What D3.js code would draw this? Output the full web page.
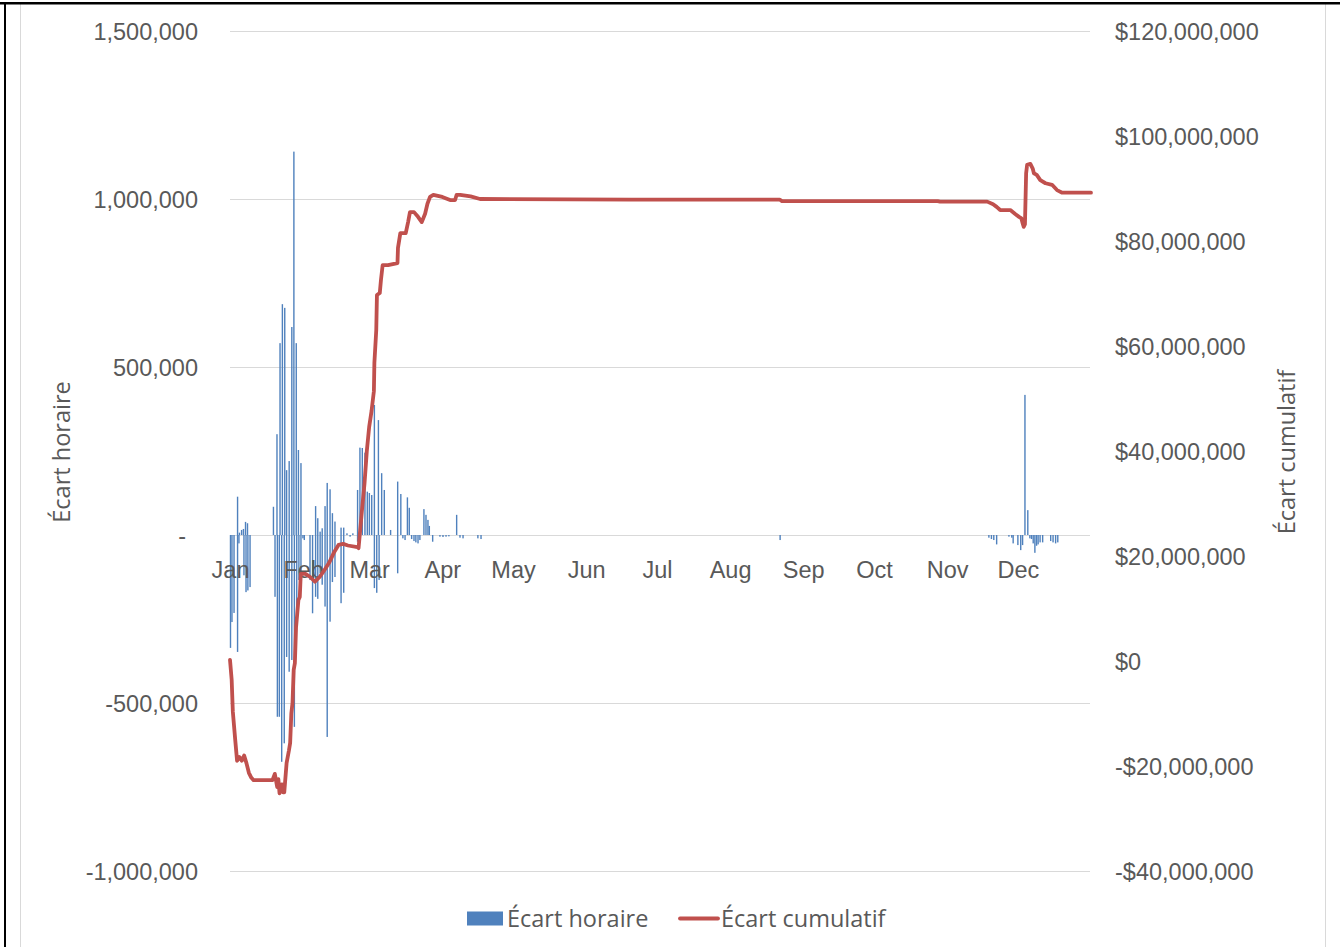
<!DOCTYPE html>
<html>
<head>
<meta charset="utf-8">
<script src="https://cdn.jsdelivr.net/npm/d3@7"></script>
<style>
  html, body { margin: 0; padding: 0; background: #fff; }
  svg { display: block; font-family: "Open Sans", "Noto Sans", sans-serif; }
  .lbl { fill: #595959; font-size: 23.5px; }
</style>
</head>
<body>
<svg id="chart" width="1340" height="947"></svg>
<script>
// Hourly deviation (Écart horaire): position in days since Jan 1, value in units
const hourlyDays = [
  0.2, 0.85, 1.7, 3.2, 3.2, 3.8, 4.0, 4.9, 5.7, 5.9, 6.6, 6.8, 7.4, 7.6, 8.5,
  18.4, 19.1, 19.9, 20.1, 20.9, 21.2, 21.9, 22.2, 23.0, 23.2, 24.0, 24.0, 25.1, 25.1,
  26.2, 26.2, 27.1, 27.3, 28.1, 28.3, 29.0, 29.2, 30.1, 30.1, 30.9,
  31.5, 33.9, 35.0, 36.3, 36.3, 37.2, 37.2, 38.2, 38.2, 39.1, 39.1, 40.3, 40.3,
  41.2, 41.2, 42.4, 42.4, 43.4, 43.4, 44.5, 44.5, 47.1, 47.1, 48.2, 48.2,
  49.6, 50.9, 52.1, 54.1, 54.1, 55.1, 56.1, 57.2, 58.2, 59.1, 60.1,
  61.2, 61.2, 62.2, 62.9, 63.2, 64.3, 65.4, 68.1, 71.1, 71.1, 72.4, 73.3, 74.2,
  75.2, 76.0, 77.0, 78.0, 78.8, 79.7, 80.5, 82.2, 83.1, 83.9, 84.5, 85.9,
  89.0, 90.3, 91.6, 92.8, 96.1, 97.5, 98.8, 105.1, 106.4,
  233.2,
  321.7, 322.8, 323.8, 325.0, 330.2, 331.4, 332.0, 334.0, 335.2, 336.0,
  337.0, 338.2, 339.1, 339.8, 340.5, 341.2, 341.9, 342.6, 343.4, 344.5,
  347.9, 348.9, 350.0, 350.9
];
const hourlyValues = [
  -336000, -259000, -232000, -348000, 114000, -25000, 7000, 15000, 18000, -120000, 39000, -170000, 35000, -165000, -155000,
  84000, -184000, 300000, -541000, -541000, 571000, -675000, 687000, -620000, 676000, 193000, -363000, 220000, -407000,
  619000, -372000, 1141000, -571000, 571000, -262000, 253000, -134000, 214000, -134000, -10000,
  -15000, -134000, -233000, 86000, -184000, 50000, -190000, 10000, -114000, 20000, -148000, 86000, -213000,
  155000, -601000, 136000, -258000, 65000, -140000, 40000, -125000, 22000, -203000, 22000, -172000,
  5000, -5000, 5000, 134000, -20000, 260000, 259000, 245000, 129000, 125000, 119000,
  387000, -158000, -172000, 342000, -134000, 184000, 134000, 15000, 159000, -114000, 122000, -10000, -15000,
  112000, 81000, -12000, -18000, -22000, -25000, -15000, 77000, 60000, 45000, 27000, -20000,
  -5000, -6000, -5000, -4000, 60000, -8000, -10000, -10000, -12000,
  -15000,
  -8000, -12000, -15000, -28000, -5000, -8000, -25000, -30000, -45000, -30000,
  417000, 74000, -10000, -12000, -25000, -53000, -32000, -28000, -22000, -22000,
  -18000, -22000, -25000, -22000
];

// Cumulative deviation (Écart cumulatif): position in days since Jan 1, value in $ millions
const cumulativeDays = [
  0, 0.7, 1.2, 2.2, 3.0, 4.0, 5.0, 6.0, 7.0, 8.0, 9.0, 10, 18,
  19, 20, 20.5, 21, 22, 22.5, 23, 24, 25, 25.5, 26, 26.5, 27, 27.5, 28, 29, 29.6, 30,
  32, 34, 36, 38, 40, 42, 44, 46, 48, 50, 54, 54.5, 55, 56, 57, 58, 59, 60, 61,
  61.2, 62, 62.3, 63.5, 64, 64.7, 67, 71, 71.2, 72.2, 74.5, 75.5, 76.3, 78, 79.7,
  81.3, 82.7, 83.7, 84.8, 86.2, 90, 93.3, 95.4, 96.1, 97.6, 102, 106, 170, 233,
  234, 300, 301, 321, 323.5, 325, 326.5, 330.8, 333, 334.5, 335.5, 336, 336.5,
  337, 337.5, 337.9, 339.3, 340.3, 340.8, 342, 343.5, 345.7, 348.5, 350.6, 352.8, 365
];
const cumulativeMillions = [
  0.2, -3.6, -9.7, -15.0, -19.0, -18.3, -19.0, -18.0, -19.5, -21.3, -22.2, -22.7, -22.7,
  -21.5, -24.0, -22.5, -25.2, -23.5, -25.0, -25.0, -19.4, -17.0, -15.6, -10.0, -8.0, -1.7, -0.4, 6.4, 11.6, 12.2, 16.6,
  16.6, 16.0, 15.1, 16.0, 17.3, 18.7, 20.6, 22.1, 22.3, 22.0, 21.7, 21.5, 24.0, 29.0, 33.7, 40.0, 44.6, 47.6, 51.4,
  56.8, 63.0, 69.7, 70.1, 72.6, 75.4, 75.4, 75.8, 78.7, 81.5, 81.5, 83.6, 85.5, 85.5, 84.6,
  83.6, 85.2, 87.1, 88.4, 88.8, 88.4, 87.8, 87.8, 88.8, 88.8, 88.5, 88.0, 87.9, 87.9,
  87.6, 87.6, 87.5, 87.5, 87.0, 86.5, 85.9, 85.9, 85.1, 84.6, 84.3, 83.4, 82.7,
  83.2, 92.9, 94.5, 94.7, 93.8, 92.9, 92.6, 91.6, 91.0, 90.7, 89.7, 89.2, 89.2
];

const leftTicks = [-1000000, -500000, 0, 500000, 1000000, 1500000];
const rightTicks = [-40e6, -20e6, 0, 20e6, 40e6, 60e6, 80e6, 100e6, 120e6];
const seriesNames = ["Écart horaire", "Écart cumulatif"];
const axisTitles = ["Écart horaire", "Écart cumulatif"];

const blue = "#4F81BD", red = "#C0504D", grid = "#D9D9D9";
const yearStart = new Date(2019, 0, 1);
const toDate = d => d3.timeHour.offset(yearStart, Math.round(d * 24));

// Plain hyphen for negative numbers
const locale = d3.formatLocale({ decimal: ".", thousands: ",", grouping: [3], currency: ["$", ""], minus: "-" });
const comma = locale.format(",");

const svg = d3.select("#chart");

// Frame lines
svg.append("line").attr("x1", 20.5).attr("x2", 20.5).attr("y1", 4).attr("y2", 947).attr("stroke", grid).attr("stroke-width", 1);
svg.append("line").attr("x1", 1325.5).attr("x2", 1325.5).attr("y1", 4).attr("y2", 947).attr("stroke", grid).attr("stroke-width", 1);
svg.append("line").attr("x1", 0).attr("x2", 1340).attr("y1", 3.2).attr("y2", 3.2).attr("stroke", "#000").attr("stroke-width", 2.5);
svg.append("line").attr("x1", 5).attr("x2", 5).attr("y1", 2).attr("y2", 947).attr("stroke", "#000").attr("stroke-width", 2);

const x = d3.scaleTime().domain([yearStart, new Date(2020, 0, 1)]).range([230, 1091]);
const yL = d3.scaleLinear().domain([-1000000, 1500000]).range([871, 31]);
const yR = d3.scaleLinear().domain([-40e6, 120e6]).range([871, 31]);

// Gridlines
svg.append("g").selectAll("line").data(leftTicks).join("line")
  .attr("x1", 230).attr("x2", 1090)
  .attr("y1", d => Math.round(yL(d)) + 0.5).attr("y2", d => Math.round(yL(d)) + 0.5)
  .attr("stroke", grid).attr("stroke-width", 1);

// Left axis
const gL = svg.append("g").attr("transform", "translate(198,0)")
  .call(d3.axisLeft(yL).tickValues(leftTicks).tickSize(0).tickPadding(0)
    .tickFormat(d => d === 0 ? "-" : comma(d)));
gL.select(".domain").remove();
gL.selectAll("text").attr("class", "lbl").attr("font-family", null).attr("font-size", null)
  .attr("dy", "0.35em").attr("x", d => d === 0 ? -12 : 0);

// Right axis
const fmtR = d => (d < 0 ? "-$" : "$") + comma(Math.abs(d));
const gR = svg.append("g").attr("transform", "translate(1115,0)")
  .call(d3.axisRight(yR).tickValues(rightTicks).tickSize(0).tickPadding(0).tickFormat(fmtR));
gR.select(".domain").remove();
gR.selectAll("text").attr("class", "lbl").attr("font-family", null).attr("font-size", null).attr("dy", "0.35em");

// Bars
const bars = hourlyDays.map((d, i) => ({ t: toDate(d), v: hourlyValues[i] }));
svg.append("g").selectAll("rect").data(bars).join("rect")
  .attr("x", d => x(d.t) - 0.7)
  .attr("width", 1.4)
  .attr("y", d => Math.min(yL(0), yL(d.v)))
  .attr("height", d => Math.abs(yL(d.v) - yL(0)))
  .attr("fill", blue);

// Month labels
const gX = svg.append("g").attr("transform", `translate(0,${yL(0)})`)
  .call(d3.axisBottom(x).ticks(d3.timeMonth.every(1)).tickSize(0).tickFormat(d3.timeFormat("%b")));
gX.select(".domain").remove();
gX.selectAll(".tick").filter(d => d >= new Date(2020, 0, 1)).remove();
gX.selectAll("text").attr("class", "lbl").attr("font-family", null).attr("font-size", null)
  .attr("dy", 0).attr("y", 43);

// Cumulative line
const cum = cumulativeDays.map((d, i) => ({ t: toDate(d), v: cumulativeMillions[i] * 1e6 }));
svg.append("path").datum(cum)
  .attr("fill", "none").attr("stroke", red).attr("stroke-width", 3.8)
  .attr("stroke-linejoin", "round").attr("stroke-linecap", "round")
  .attr("d", d3.line().x(d => x(d.t)).y(d => yR(d.v)));

// Axis titles
svg.append("text").attr("class", "lbl").attr("text-anchor", "middle")
  .attr("transform", "translate(70,452) rotate(-90)").text(axisTitles[0]);
svg.append("text").attr("class", "lbl").attr("text-anchor", "middle")
  .attr("transform", "translate(1295,452) rotate(-90)").text(axisTitles[1]);

// Legend
const lg = svg.append("g");
lg.append("rect").attr("x", 467).attr("y", 911.5).attr("width", 36).attr("height", 14).attr("fill", blue);
lg.append("text").attr("class", "lbl").attr("x", 507).attr("y", 927).text(seriesNames[0]);
lg.append("line").attr("x1", 680).attr("x2", 718).attr("y1", 918.5).attr("y2", 918.5)
  .attr("stroke", red).attr("stroke-width", 3.8).attr("stroke-linecap", "round");
lg.append("text").attr("class", "lbl").attr("x", 721).attr("y", 927).text(seriesNames[1]);
</script>
</body>
</html>
